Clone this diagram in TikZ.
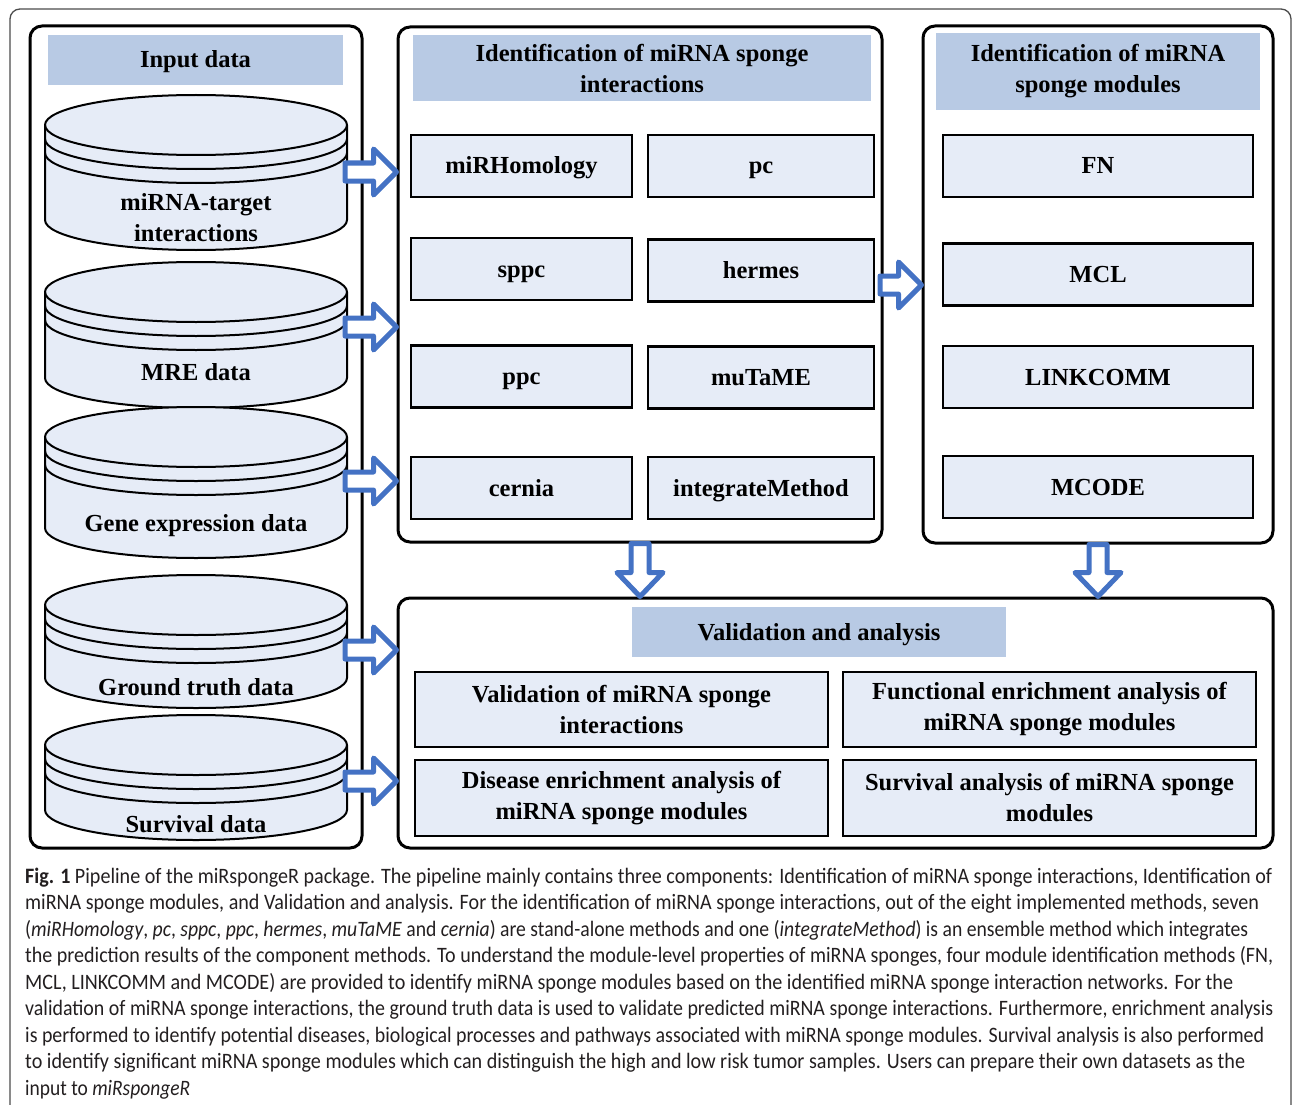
\documentclass[tikz,border=0pt]{standalone}
\usepackage{fontspec}
\usepackage{graphicx}
\usetikzlibrary{calc}
\newfontfamily\boxfont{Liberation Serif}
\newfontfamily\capfont{Carlito}
\definecolor{hdrblue}{HTML}{B8CAE4}
\definecolor{boxfill}{HTML}{E6ECF7}
\definecolor{arrowblue}{HTML}{4472C4}
\definecolor{capgray}{HTML}{231F20}
\tikzset{
  panel/.style={draw, line width=3pt, rounded corners=12pt, inner sep=0pt},
  hdr/.style={fill=hdrblue, inner sep=0pt, align=center,
    font=\boxfont\bfseries\fontsize{24.5}{31}\selectfont},
  methodbox/.style={draw, line width=2.2pt, fill=boxfill, inner sep=0pt, align=center,
    font=\boxfont\bfseries\fontsize{24.5}{31}\selectfont},
  oneline/.style={text height=20pt, text depth=4pt},
  cyltext/.style={inner sep=0pt, align=center,
    font=\boxfont\bfseries\fontsize{24.5}{31}\selectfont},
  cylstyle/.style={draw, fill=boxfill, line width=2pt},
  cylline/.style={draw, line width=2pt},
  barrow/.style={draw=arrowblue, line width=5pt, fill=white, line join=round},
  captext/.style={anchor=base west, inner sep=0pt, text=capgray,
    font=\capfont\fontsize{22}{26.5}\selectfont},
}
\newcommand\drawcyl[2]{%
  \filldraw[cylstyle] (45,#1) -- (45,#2)
    .. controls (45,#2+16.6) and (112.6,#2+30) .. (196,#2+30)
    .. controls (279.4,#2+30) and (347,#2+16.6) .. (347,#2)
    -- (347,#1)
    .. controls (347,#1-16.6) and (279.4,#1-30) .. (196,#1-30)
    .. controls (112.6,#1-30) and (45,#1-16.6) .. (45,#1) -- cycle;
  \draw[cylline] (45,#1) .. controls (45,#1+16.6) and (112.6,#1+30) .. (196,#1+30)
    .. controls (279.4,#1+30) and (347,#1+16.6) .. (347,#1);
  \draw[cylline] (45,#1+14) .. controls (45,#1+30.6) and (112.6,#1+44) .. (196,#1+44)
    .. controls (279.4,#1+44) and (347,#1+30.6) .. (347,#1+14);
  \draw[cylline] (45,#1+28) .. controls (45,#1+44.6) and (112.6,#1+58) .. (196,#1+58)
    .. controls (279.4,#1+58) and (347,#1+44.6) .. (347,#1+28);
}
\newcommand\harrow[2]{%
  \draw[barrow] let \p1=(#1), \p2=(#2) in
    (\x1,\y1+9pt) -- (\x2-23pt,\y1+9pt) -- (\x2-23pt,\y1+23pt) -- (\x2,\y1)
    -- (\x2-23pt,\y1-23pt) -- (\x2-23pt,\y1-9pt) -- (\x1,\y1-9pt) -- cycle;}
\newcommand\varrow[2]{%
  \draw[barrow] let \p1=(#1), \p2=(#2) in
    (\x1-9pt,\y1) -- (\x1-9pt,\y2+24pt) -- (\x1-23pt,\y2+24pt) -- (\x1,\y2)
    -- (\x1+23pt,\y2+24pt) -- (\x1+9pt,\y2+24pt) -- (\x1+9pt,\y1) -- cycle;}
\begin{document}
\begin{tikzpicture}[x=1pt,y=-1pt]
\useasboundingbox (0,0) rectangle (1293,1105);
% outer frame
\draw[black!70, line width=1.3pt, rounded corners=10pt] (10,1110) -- (10,9) -- (1291,9) -- (1291,1110);

% panels
\node[panel, minimum width=332, minimum height=822] (p1) at (196,437) {};
\node[panel, minimum width=484, minimum height=515] (p2) at (640,284.5) {};
\node[panel, minimum width=350, minimum height=517] (p3) at (1098,284.5) {};
\node[panel, minimum width=875, minimum height=250] (p4) at (835.5,723) {};

% headers
\node[hdr, oneline, minimum width=295, minimum height=50] (h1) at (195.5,60) {Input data};
\node[hdr, minimum width=458, minimum height=66] (h2) at (642,68) {Identification of miRNA sponge\\interactions};
\node[hdr, minimum width=324, minimum height=77] (h3) at (1098,71.5) {Identification of miRNA\\sponge modules};
\node[hdr, oneline, minimum width=374, minimum height=50] (h4) at (819,632) {Validation and analysis};

% cylinders
\drawcyl{125}{220}
\drawcyl{292}{378}
\drawcyl{437}{528}
\drawcyl{605}{678}
\drawcyl{745}{810}
\node[cyltext] (c1) at (196,217.5) {miRNA-target\\interactions};
\node[cyltext] (c2) at (196,372) {MRE data};
\node[cyltext] (c3) at (196,526) {Gene expression data};
\node[cyltext] (c4) at (196,687) {Ground truth data};
\node[cyltext] (c5) at (196,824) {Survival data};

% panel 2 boxes
\node[methodbox, oneline, minimum width=221, minimum height=62] (m1) at (521.5,166) {miRHomology};
\node[methodbox, oneline, minimum width=226, minimum height=62] (m2) at (761,166) {pc};
\node[methodbox, oneline, minimum width=221, minimum height=62] (m3) at (521.5,269) {sppc};
\node[methodbox, oneline, minimum width=226, minimum height=62] (m4) at (761,270.5) {hermes};
\node[methodbox, oneline, minimum width=221, minimum height=62] (m5) at (521.5,376.5) {ppc};
\node[methodbox, oneline, minimum width=226, minimum height=62] (m6) at (761,377.5) {muTaME};
\node[methodbox, oneline, minimum width=221, minimum height=62] (m7) at (521.5,488) {cernia};
\node[methodbox, oneline, minimum width=226, minimum height=62] (m8) at (761,488) {integrateMethod};

% panel 3 boxes
\node[methodbox, oneline, minimum width=310, minimum height=62] (f1) at (1098,166) {FN};
\node[methodbox, oneline, minimum width=310, minimum height=62] (f2) at (1098,274.5) {MCL};
\node[methodbox, oneline, minimum width=310, minimum height=62] (f3) at (1098,377) {LINKCOMM};
\node[methodbox, oneline, minimum width=310, minimum height=62] (f4) at (1098,487) {MCODE};

% panel 4 boxes
\node[methodbox, minimum width=413, minimum height=75] (v1) at (621.5,709.5) {Validation of miRNA sponge\\interactions};
\node[methodbox, minimum width=413, minimum height=75] (v2) at (1049.5,709.5) {Functional enrichment analysis of\\miRNA sponge modules};
\node[methodbox, minimum width=413, minimum height=76] (v3) at (621.5,798) {Disease enrichment analysis of\\miRNA sponge modules};
\node[methodbox, minimum width=413, minimum height=76] (v4) at (1049.5,798) {Survival analysis of miRNA sponge\\modules};

% arrows
\coordinate (a1) at (345,172);
\coordinate (a2) at (345,327);
\coordinate (a3) at (345,481);
\coordinate (a4) at (345,650);
\coordinate (a5) at (345,781);
\coordinate (a6) at (880,285);
\harrow{a1}{p2.west |- a1}
\harrow{a2}{p2.west |- a2}
\harrow{a3}{p2.west |- a3}
\harrow{a4}{p4.west |- a4}
\harrow{a5}{p4.west |- a5}
\harrow{a6}{p3.west |- a6}
\varrow{p2.south}{p2.south |- p4.north}
\varrow{p3.south}{p3.south |- p4.north}

% caption
\node[captext] (l1) at (25,883) {\resizebox{1247pt}{\height}{\textbf{Fig. 1} Pipeline of the miRspongeR package. The pipeline mainly contains three components: Identification of miRNA sponge interactions, Identification of}};
\node[captext] (l2) at (25,909.5) {\resizebox{1234pt}{\height}{miRNA sponge modules, and Validation and analysis. For the identification of miRNA sponge interactions, out of the eight implemented methods, seven}};
\node[captext] (l3) at (25,936) {\resizebox{1223pt}{\height}{(\textit{miRHomology}, \textit{pc}, \textit{sppc}, \textit{ppc}, \textit{hermes}, \textit{muTaME} and \textit{cernia}) are stand-alone methods and one (\textit{integrateMethod}) is an ensemble method which integrates}};
\node[captext] (l4) at (25,962.5) {\resizebox{1248pt}{\height}{the prediction results of the component methods. To understand the module-level properties of miRNA sponges, four module identification methods (FN,}};
\node[captext] (l5) at (25,989) {\resizebox{1208pt}{\height}{MCL, LINKCOMM and MCODE) are provided to identify miRNA sponge modules based on the identified miRNA sponge interaction networks. For the}};
\node[captext] (l6) at (25,1015.5) {\resizebox{1248pt}{\height}{validation of miRNA sponge interactions, the ground truth data is used to validate predicted miRNA sponge interactions. Furthermore, enrichment analysis}};
\node[captext] (l7) at (25,1042) {\resizebox{1239pt}{\height}{is performed to identify potential diseases, biological processes and pathways associated with miRNA sponge modules. Survival analysis is also performed}};
\node[captext] (l8) at (25,1068.5) {\resizebox{1220pt}{\height}{to identify significant miRNA sponge modules which can distinguish the high and low risk tumor samples. Users can prepare their own datasets as the}};
\node[captext] (l9) at (25,1095) {\resizebox{165pt}{\height}{input to \textit{miRspongeR}}};
\end{tikzpicture}
\end{document}
